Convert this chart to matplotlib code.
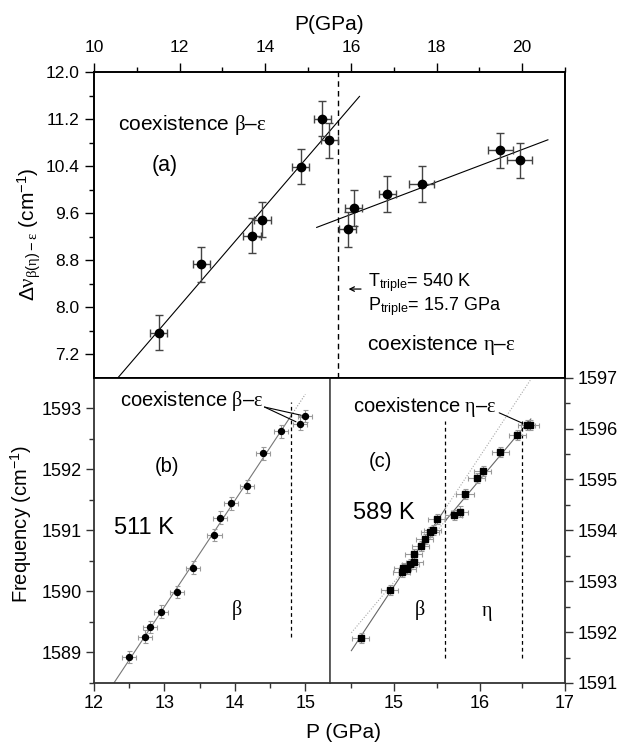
import numpy as np
import matplotlib
matplotlib.use('Agg')
import matplotlib.pyplot as plt
from matplotlib.ticker import FormatStrFormatter

plt.rcParams['font.family'] = ['Liberation Sans', 'DejaVu Sans']
plt.rcParams['mathtext.fontset'] = 'custom'
plt.rcParams['mathtext.rm'] = 'Liberation Sans'
plt.rcParams['mathtext.it'] = 'Liberation Serif'
plt.rcParams['mathtext.bf'] = 'Liberation Sans:bold'
plt.rcParams['mathtext.sf'] = 'Liberation Sans'

# ---------------- data: panel (a) ----------------
a_be_P = [11.51, 12.51, 13.69, 13.93, 14.83, 15.33, 15.49]
a_be_dv = [7.57, 8.73, 9.22, 9.49, 10.39, 11.21, 10.84]
a_be_Perr = [0.2, 0.2, 0.2, 0.2, 0.2, 0.2, 0.2]
a_be_dverr = [0.3, 0.3, 0.3, 0.3, 0.3, 0.3, 0.3]
a_ee_P = [15.92, 16.06, 16.85, 17.65, 19.49, 19.94]
a_ee_dv = [9.33, 9.69, 9.93, 10.10, 10.67, 10.50]
a_ee_Perr = [0.2, 0.2, 0.2, 0.3, 0.3, 0.3]
a_ee_dverr = [0.3, 0.3, 0.3, 0.3, 0.3, 0.3]
P_triple = 15.7
a_be_fit_range = [10.5, 16.2]
a_ee_fit_range = [15.2, 20.6]

# ---------------- data: panel (b) 511 K ----------------
b_P = [12.50, 12.72, 12.80, 12.95, 13.18, 13.41, 13.71, 13.79, 13.94, 14.17, 14.40, 14.66]
b_f = [1588.93, 1589.26, 1589.42, 1589.67, 1589.99, 1590.39, 1590.92, 1591.21,
       1591.44, 1591.72, 1592.26, 1592.62]
b_co_P = [14.92, 15.00]
b_co_f = [1592.75, 1592.87]
b_err_P = 0.1
b_err_f = 0.1
b_boundary = 14.8

# ---------------- data: panel (c) 589 K ----------------
c_beta_P = [14.61, 14.95, 15.09, 15.10, 15.155, 15.19, 15.235, 15.23, 15.31, 15.36, 15.42, 15.45, 15.50]
c_beta_f = [1591.88, 1592.82, 1593.18, 1593.26, 1593.25, 1593.34, 1593.38, 1593.54,
            1593.69, 1593.83, 1593.97, 1594.01, 1594.22]
c_eta_P = [15.70, 15.77, 15.83, 15.965, 16.035, 16.245, 16.44]
c_eta_f = [1594.31, 1594.37, 1594.71, 1595.03, 1595.17, 1595.54, 1595.88]
c_co_P = [16.55, 16.59]
c_co_f = [1596.07, 1596.07]
c_err_P = 0.1
c_err_f = 0.1
c_boundaries = [15.6, 16.5]

# ---------------- figure ----------------
fig = plt.figure(figsize=(6.19, 7.44), dpi=100)
axa = fig.add_axes([0.1519, 0.4923, 0.7609, 0.4105])
axb = fig.add_axes([0.1519, 0.0820, 0.3812, 0.4103])
axc = fig.add_axes([0.5331, 0.0820, 0.3797, 0.4103])

# ---- panel (a)
ekw = dict(fmt='o', color='black', ms=6, ecolor='#444444', elinewidth=1.0,
           capsize=3.2, capthick=1.0, zorder=3)
axa.errorbar(a_be_P, a_be_dv, xerr=a_be_Perr, yerr=a_be_dverr, **ekw)
axa.errorbar(a_ee_P, a_ee_dv, xerr=a_ee_Perr, yerr=a_ee_dverr, **ekw)
k1 = np.polyfit(a_be_P, a_be_dv, 1)
xx = np.array(a_be_fit_range)
axa.plot(xx, np.polyval(k1, xx), color='black', lw=0.8)
k2 = np.polyfit(a_ee_P, a_ee_dv, 1)
xx = np.array(a_ee_fit_range)
axa.plot(xx, np.polyval(k2, xx), color='black', lw=0.8)
axa.axvline(P_triple, color='black', lw=1.0, ls=(0, (4, 3)))

axa.set_xlim(10, 21)
axa.set_ylim(6.8, 12.0)
axa.xaxis.tick_top()
axa.xaxis.set_label_position('top')
axa.set_xticks(np.arange(10, 21, 2))
axa.set_xticks(np.arange(11, 22, 2), minor=True)
axa.set_yticks(np.arange(7.2, 12.01, 0.8))
axa.set_yticks(np.arange(7.6, 12.0, 0.8), minor=True)
axa.yaxis.set_major_formatter(FormatStrFormatter('%.1f'))
axa.tick_params(which='major', direction='out', length=6.5, width=1.0, labelsize=12.5, pad=4)
axa.tick_params(which='minor', direction='out', length=3.5, width=1.0)
axa.tick_params(axis='x', which='major', pad=6)
for s in axa.spines.values():
    s.set_linewidth(1.4)
axa.set_xlabel('P(GPa)', fontsize=15, labelpad=7)
axa.set_ylabel(r'$\Delta\nu_{\beta(\eta)-\varepsilon}$ (cm$^{-1}$)', fontsize=15)
axa.yaxis.set_label_coords(-0.11, 0.47)

axa.text(10.56, 11.10, r'coexistence $\beta$–$\varepsilon$', fontsize=15, va='center', ha='left')
axa.text(11.65, 10.41, '(a)', fontsize=15.5, va='center', ha='center')
axa.text(16.38, 7.36, r'coexistence $\eta$–$\varepsilon$', fontsize=15, va='center', ha='left')
axa.text(16.40, 8.35, r'T$_{\rm triple}$= 540 K', fontsize=13, va='baseline', ha='left')
axa.text(16.40, 7.955, r'P$_{\rm triple}$= 15.7 GPa', fontsize=13, va='baseline', ha='left')
axa.annotate('', xy=(15.88, 8.31), xytext=(16.30, 8.31),
             arrowprops=dict(arrowstyle='->', color='black', lw=0.9, mutation_scale=8))

# ---- panel (b)
skw = dict(color='black', ecolor='#9a9a9a', elinewidth=0.8, capsize=1.8, capthick=0.8, zorder=3)
axb.errorbar(b_P, b_f, xerr=b_err_P, yerr=b_err_f, fmt='o', ms=4.3, **skw)
axb.errorbar(b_co_P, b_co_f, xerr=b_err_P, yerr=b_err_f, fmt='o', ms=4.3, **skw)
kb = np.polyfit(b_P, b_f, 1)
xx = np.array([12.2, b_boundary])
axb.plot(xx, np.polyval(kb, xx), color='#777777', lw=0.8)
xx = np.array([b_boundary, 15.0])
axb.plot(xx, np.polyval(kb, xx), color='#999999', lw=0.8, ls=(0, (1, 1.5)))
axb.plot([b_boundary, b_boundary], [1589.25, 1593.1], color='black', lw=0.9, ls=(0, (3, 2.5)))

axb.set_xlim(12, 15.35)
axb.set_ylim(1588.5, 1593.5)
axb.set_xticks([12, 13, 14, 15])
axb.set_xticks([12.5, 13.5, 14.5], minor=True)
axb.set_yticks([1589, 1590, 1591, 1592, 1593])
axb.set_yticks([1588.5, 1589.5, 1590.5, 1591.5, 1592.5], minor=True)
axb.tick_params(which='major', direction='out', length=6, width=1.0, labelsize=13, pad=3,
                color='#333333')
axb.tick_params(which='minor', direction='out', length=3.5, width=1.0, color='#333333')
axb.set_ylabel('Frequency (cm$^{-1}$)', fontsize=14.5)
axb.yaxis.set_label_coords(-0.255, 0.52)
for name, s in axb.spines.items():
    s.set_linewidth(1.3)
    s.set_color('#333333')
axb.spines['top'].set_color('black')
axb.spines['right'].set_color('#555555')

axb.text(12.37, 1593.12, r'coexistence $\beta$–$\varepsilon$', fontsize=14.5, va='center', ha='left')
for px, pf in zip(b_co_P, b_co_f):
    axb.annotate('', xy=(px, pf), xytext=(14.42, 1593.02),
                 arrowprops=dict(arrowstyle='-', color='black', lw=0.8, shrinkA=0, shrinkB=3))
axb.text(13.03, 1592.05, '(b)', fontsize=14.5, va='center', ha='center')
axb.text(12.29, 1591.04, '511 K', fontsize=17, va='center', ha='left')
axb.text(14.02, 1589.70, r'$\beta$', fontsize=14.5, va='center', ha='center')

# ---- panel (c)
axc.errorbar(c_beta_P, c_beta_f, xerr=c_err_P, yerr=c_err_f, fmt='s', ms=4.3, **skw)
axc.errorbar(c_eta_P, c_eta_f, xerr=c_err_P, yerr=c_err_f, fmt='s', ms=4.3, **skw)
axc.errorbar(c_co_P, c_co_f, xerr=c_err_P, yerr=c_err_f, fmt='s', ms=4.3, **skw)
kcb = np.polyfit(c_beta_P, c_beta_f, 1)
kce = np.polyfit(c_eta_P + c_co_P, c_eta_f + c_co_f, 1)
xs = np.array([14.5, c_boundaries[0]])
xe = np.array([c_boundaries[0], 16.6])
axc.plot(xs, np.polyval(kcb, xs), color='#666666', lw=0.8)
axc.plot(xe, np.polyval(kcb, xe), color='#aaaaaa', lw=0.8, ls=(0, (1, 1.5)))
axc.plot(xe, np.polyval(kce, xe), color='#666666', lw=0.8)
axc.plot(xs, np.polyval(kce, xs), color='#aaaaaa', lw=0.8, ls=(0, (1, 1.5)))
for xb in c_boundaries:
    axc.plot([xb, xb], [1591.5, 1596.15], color='black', lw=0.9, ls=(0, (3, 2.5)))

axc.set_xlim(14.25, 17)
axc.set_ylim(1591, 1597)
axc.set_xticks([15, 16, 17])
axc.set_xticks([14.5, 15.5, 16.5], minor=True)
axc.set_yticks(np.arange(1591, 1597.1, 1))
axc.set_yticks(np.arange(1591.5, 1597, 1), minor=True)
axc.yaxis.tick_right()
axc.tick_params(which='major', direction='out', length=6, width=1.0, labelsize=13, pad=3,
                color='#333333')
axc.tick_params(which='minor', direction='out', length=3.5, width=1.0, color='#333333')
for name, s in axc.spines.items():
    s.set_linewidth(1.3)
    s.set_color('#333333')
axc.spines['top'].set_color('black')
axc.spines['left'].set_color('#555555')

axc.text(14.52, 1596.42, r'coexistence $\eta$–$\varepsilon$', fontsize=14.5, va='center', ha='left')
axc.annotate('', xy=(c_co_P[0], c_co_f[0]), xytext=(16.23, 1596.31),
             arrowprops=dict(arrowstyle='-', color='black', lw=0.8, shrinkA=0, shrinkB=3))
axc.text(14.84, 1595.35, '(c)', fontsize=14.5, va='center', ha='center')
axc.text(14.52, 1594.35, '589 K', fontsize=17, va='center', ha='left')
axc.text(15.30, 1592.44, r'$\beta$', fontsize=14.5, va='center', ha='center')
axc.text(16.08, 1592.37, r'$\eta$', fontsize=14.5, va='center', ha='center')

fig.text(344 / 619, 1 - 733 / 744, 'P (GPa)', fontsize=15, ha='center', va='center')

fig.savefig('out.png', dpi=100)
